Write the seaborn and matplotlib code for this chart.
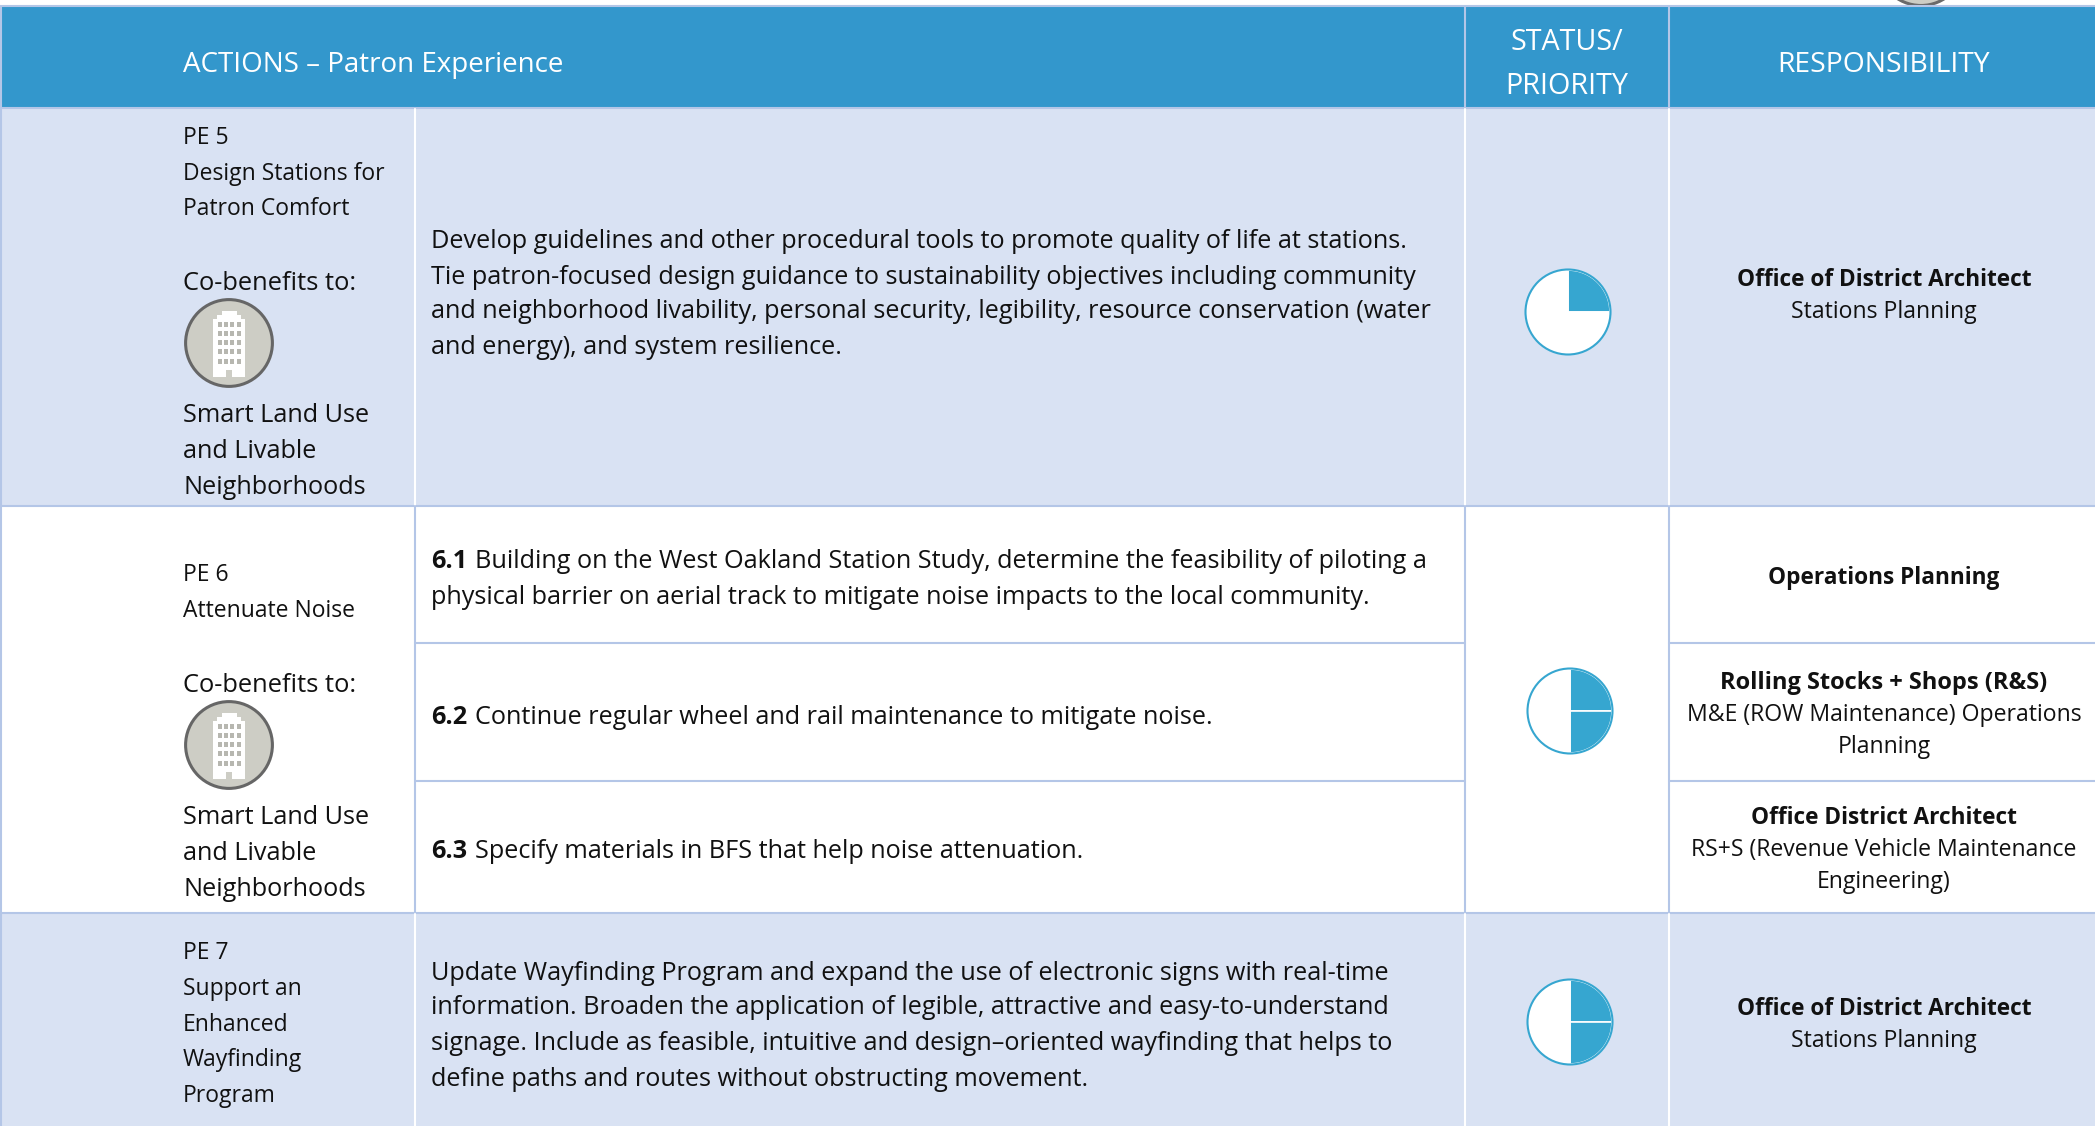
import matplotlib
matplotlib.use('Agg')
import matplotlib.pyplot as plt
from matplotlib.patches import Circle, Rectangle
import seaborn as sns

# --- table content ---
HEADER_TITLE = 'ACTIONS \u2013 Patron Experience'
HEADER_STATUS = ['STATUS/', 'PRIORITY']
HEADER_RESP = 'RESPONSIBILITY'

pe5_left = ['PE 5', 'Design Stations for', 'Patron Comfort']
pe6_left = ['PE 6', 'Attenuate Noise']
pe7_left = ['PE 7', 'Support an', 'Enhanced', 'Wayfinding', 'Program']
cobenefit_label = 'Co-benefits to:'
cobenefit_name = ['Smart Land Use', 'and Livable', 'Neighborhoods']

pe5_action = ['Develop guidelines and other procedural tools to promote quality of life at stations.',
              'Tie patron-focused design guidance to sustainability objectives including community',
              'and neighborhood livability, personal security, legibility, resource conservation (water',
              'and energy), and system resilience.']
pe6_ids = ['6.1', '6.2', '6.3']
pe6_actions = [['Building on the West Oakland Station Study, determine the feasibility of piloting a',
                'physical barrier on aerial track to mitigate noise impacts to the local community.'],
               ['Continue regular wheel and rail maintenance to mitigate noise.'],
               ['Specify materials in BFS that help noise attenuation.']]
pe7_action = ['Update Wayfinding Program and expand the use of electronic signs with real-time',
              'information. Broaden the application of legible, attractive and easy-to-understand',
              'signage. Include as feasible, intuitive and design\u2013oriented wayfinding that helps to',
              'define paths and routes without obstructing movement.']

resp_bold = ['Office of District Architect', 'Operations Planning', 'Rolling Stocks + Shops (R&S)',
             'Office District Architect', 'Office of District Architect']
resp_plain = [['Stations Planning'], [], ['M&E (ROW Maintenance) Operations', 'Planning'],
              ['RS+S (Revenue Vehicle Maintenance', 'Engineering)'], ['Stations Planning']]

# status pies: filled quarters, then the empty part
pe5_status = [25, 75]
pe6_status = [25, 25, 50]
pe7_status = [25, 25, 50]

# --- colours ---
BLUE = '#3397cc'
BAND = '#d9e2f3'
GRID = '#b4c6e7'
PIE = '#36a6d0'
INK = '#111111'
ICON = '#cdcdc5'

sns.set_theme(style='white')
plt.rcParams['font.family'] = ['Open Sans', 'DejaVu Sans']

W, H = 2095, 1126
fig = plt.figure(figsize=(W / 100, H / 100), dpi=100)
ax = fig.add_axes([0, 0, 1, 1])

X1, X2, X3 = 415, 1465, 1669
Y_TOP, Y_HEAD, Y_PE5, Y_61, Y_62, Y_PE6 = 7, 108, 506, 643, 781, 913

# row bands as horizontal bars
for top, bottom, colour in [(Y_TOP, Y_HEAD, BLUE), (Y_HEAD, Y_PE5, BAND), (Y_PE6, H + 40, BAND)]:
    sns.barplot(x=[W], y=[(top + bottom) / 2], orient='h', native_scale=True, width=bottom - top,
                color=colour, saturation=1, linewidth=0, ax=ax)

# icon peeking in above the header
ax.add_patch(Circle((1921, -38), 43.5, fc=ICON, ec='#6a6a6a', lw=2.2, zorder=1))

LW = 1.5
# header and row rules
ax.plot([0, W], [Y_TOP - 1, Y_TOP - 1], color=GRID, lw=LW)
for y in [Y_HEAD, Y_PE5, Y_PE6]:
    ax.plot([0, W], [y, y], color=GRID, lw=LW)
for x0, x1 in [(X1, X2), (X3, W)]:
    for y in [Y_61, Y_62]:
        ax.plot([x0, x1], [y, y], color=GRID, lw=LW)

# column rules: light in the header, white in bands, blue in the white row
for x in [X2, X3]:
    ax.plot([x, x], [Y_TOP, Y_HEAD], color=GRID, lw=LW)
for x in [X1, X2, X3]:
    ax.plot([x, x], [Y_HEAD + 1, Y_PE5 - 1], color='white', lw=LW)
    ax.plot([x, x], [Y_PE5, Y_PE6], color=GRID, lw=LW)
    ax.plot([x, x], [Y_PE6 + 1, H], color='white', lw=LW)
ax.plot([1, 1], [Y_TOP, H], color=GRID, lw=LW, zorder=3)


def draw_lines(lines, x, ys, size=18.2, ha='left', color=INK, weight='normal'):
    for line, y in zip(lines, ys):
        ax.text(x, y, line, fontsize=size, ha=ha, va='center', color=color, weight=weight)


def draw_building(cx, cy):
    ax.add_patch(Circle((cx, cy), 43.4, fc=ICON, ec='#666666', lw=2.2, zorder=3))
    # stepped tower
    ax.add_patch(Rectangle((cx - 7.5, cy - 32.5), 15, 9, fc='white', ec='none', zorder=4))
    ax.add_patch(Rectangle((cx - 12, cy - 28), 24, 6, fc='white', ec='none', zorder=4))
    ax.add_patch(Rectangle((cx - 16.5, cy - 24), 32.5, 58, fc='white', ec='none', zorder=4))
    for r in range(5):
        for c in range(4):
            ax.add_patch(Rectangle((cx - 11 + c * 6.2, cy - 21.5 + r * 9.3), 4, 5,
                                   fc='#b7b7b0', ec='none', zorder=5))
    ax.add_patch(Rectangle((cx - 3.3, cy + 27), 6.6, 7, fc=ICON, ec='none', zorder=5))


# left column
LEFT_X = 183
TITLE_SIZE = 16.5
draw_lines(pe5_left, LEFT_X, [138, 174, 209], size=TITLE_SIZE)
draw_lines([cobenefit_label], LEFT_X, [283], size=18.4)
draw_building(229, 343)
draw_lines(cobenefit_name, LEFT_X, [416, 451, 487])

draw_lines(pe6_left, LEFT_X, [575, 611], size=TITLE_SIZE)
draw_lines([cobenefit_label], LEFT_X, [685], size=18.4)
draw_building(229, 745)
draw_lines(cobenefit_name, LEFT_X, [817, 853, 889])

draw_lines(pe7_left, LEFT_X, [953, 989, 1025, 1060, 1096], size=TITLE_SIZE)

# action column
ACT_X = 431
draw_lines(pe5_action, ACT_X, [241, 277, 312, 347])
draw_lines(pe7_action, ACT_X, [973, 1008, 1043, 1079])

fig.canvas.draw()
renderer = fig.canvas.get_renderer()
act_ys = [[561, 597], [717], [852]]
for num, lines, ys in zip(pe6_ids, pe6_actions, act_ys):
    label = ax.text(ACT_X, ys[0], num, fontsize=18.2, weight='bold', color=INK, va='center')
    gap = label.get_window_extent(renderer).width + 8
    draw_lines(lines[:1], ACT_X + gap, ys[:1])
    draw_lines(lines[1:], ACT_X, ys[1:])

# responsibility column
RESP_X = 1884
resp_ys = [280, 578, 683, 818, 1009]
resp_sizes = [16.3, 16.3, 17, 16.3, 16.3]
for bold, plain, y, size in zip(resp_bold, resp_plain, resp_ys, resp_sizes):
    draw_lines([bold], RESP_X, [y], size=size, ha='center', weight='bold')
    draw_lines(plain, RESP_X, [y + 32 * (i + 1) for i in range(len(plain))], size=16.6, ha='center')

# status pies
for values, cx, cy in [(pe5_status, 1568, 312), (pe6_status, 1570, 711), (pe7_status, 1570, 1022)]:
    colours = [PIE] * (len(values) - 1) + ['white']
    # y axis points down, so counterclockwise from 270 runs clockwise on screen
    ax.pie(values, colors=colours, center=(cx, cy), radius=42, startangle=270,
           wedgeprops={'edgecolor': 'white', 'linewidth': 1.2}, frame=False)
    ax.add_patch(Circle((cx, cy), 42.5, fc='none', ec=PIE, lw=1.5, zorder=6))

# header text
ax.text(LEFT_X, 65, HEADER_TITLE, color='white', fontsize=20, va='center')
draw_lines(HEADER_STATUS, 1567, [43, 86], size=20.7, ha='center', color='white')
ax.text(RESP_X, 65, HEADER_RESP, color='white', fontsize=20.3, ha='center', va='center')

ax.set_xlim(0, W)
ax.set_ylim(H, 0)
ax.set_axis_off()

fig.savefig('out.png', dpi=100)
